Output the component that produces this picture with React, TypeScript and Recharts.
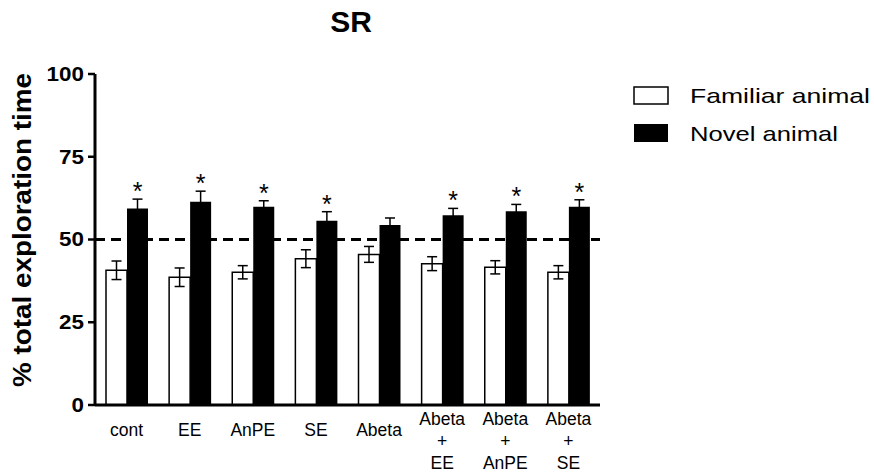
import { BarChart, Bar, XAxis, YAxis, ErrorBar, ReferenceLine, LabelList, Legend } from 'recharts'

const categories = ['cont', 'EE', 'AnPE', 'SE', 'Abeta', 'Abeta\n+\nEE', 'Abeta\n+\nAnPE', 'Abeta\n+\nSE']
const familiar = [40.7, 38.6, 40.1, 44.2, 45.5, 42.7, 41.6, 40.1]
const familiarErr = [2.8, 2.8, 2.0, 2.7, 2.4, 2.1, 2.0, 2.0]
const novel = [59.4, 61.4, 59.9, 55.7, 54.4, 57.3, 58.5, 59.9]
const novelErr = [2.8, 3.2, 1.8, 2.7, 2.1, 2.1, 2.1, 2.1]
const significant = ['*', '*', '*', '*', '', '*', '*', '*']
const yTicks = [0, 25, 50, 75, 100]

const FONT = '"Liberation Sans", Arial, sans-serif'

const data = categories.map((name, i) => ({
  name,
  familiar: familiar[i],
  familiarErr: familiarErr[i],
  novel: novel[i],
  novelErr: novelErr[i],
  sig: significant[i],
}))

// multi-line group labels under the x axis
const XTick = ({ x, y, payload }: any) => {
  const lines = String(payload.value).split('\n')
  const first = lines.length > 1 ? 12 : 23
  return (
    <text x={x} y={y} textAnchor="middle" fontSize={17.5} fontFamily={FONT} fill="#000">
      {lines.map((l, i) => (
        <tspan key={i} x={x} dy={i === 0 ? first : 22}>
          {l}
        </tspan>
      ))}
    </text>
  )
}

// the original tick numbers are a bit wider than Arial
const YTick = ({ x, y, payload }: any) => (
  <text
    x={x}
    y={y}
    dy={7}
    textAnchor="end"
    fontSize={19.5}
    fontWeight="bold"
    fontFamily={FONT}
    fill="#000"
    transform={`translate(${x},0) scale(1.15,1) translate(${-x},0)`}
  >
    {payload.value}
  </text>
)

const YLabel = () => (
  <text
    x={31}
    y={230}
    transform="rotate(-90, 31, 230)"
    textAnchor="middle"
    fontSize={25}
    fontWeight="bold"
    fontFamily={FONT}
    fill="#000"
    textLength={314}
    lengthAdjust="spacingAndGlyphs"
  >
    % total exploration time
  </text>
)

// asterisk above the error bar of the novel animal bar
const Star = (props: any) => {
  const { x, y, width, height, index, value } = props
  if (!value) return null
  const pxPerUnit = height / novel[index]
  const top = y - novelErr[index] * pxPerUnit
  return (
    <text x={x + width / 2} y={top + 1} textAnchor="middle" fontSize={25} fontFamily={FONT} fill="#000">
      {value}
    </text>
  )
}

const LegendBox = () => (
  <svg width={254} height={90}>
    <rect x={14} y={12} width={34} height={17} fill="#fff" stroke="#000" strokeWidth={1.5} />
    <text x={70} y={28} fontSize={21} fontFamily={FONT} fill="#000" textLength={180} lengthAdjust="spacingAndGlyphs">
      Familiar animal
    </text>
    <rect x={14} y={49} width={34} height={18} fill="#000" />
    <text x={70} y={66} fontSize={21} fontFamily={FONT} fill="#000" textLength={148} lengthAdjust="spacingAndGlyphs">
      Novel animal
    </text>
  </svg>
)

export default function App() {
  return (
    <div style={{ position: 'absolute', left: 0, top: 0, width: 874, height: 474, background: '#fff' }}>
      <div
        style={{
          position: 'absolute',
          left: 0,
          top: 7,
          width: 702,
          textAlign: 'center',
          fontFamily: FONT,
          fontWeight: 'bold',
          fontSize: 30,
          lineHeight: '30px',
          zIndex: 1,
        }}
      >
        SR
      </div>
      <BarChart
        width={874}
        height={474}
        data={data}
        margin={{ top: 74, right: 274, bottom: 0, left: 0 }}
        barGap={0}
        barSize={21}
      >
        <XAxis
          dataKey="name"
          interval={0}
          tickLine={false}
          axisLine={{ stroke: '#000', strokeWidth: 3 }}
          height={69}
          tick={<XTick />}
        />
        <YAxis
          width={95}
          domain={[0, 100]}
          ticks={yTicks}
          interval={0}
          tickSize={7}
          tickMargin={4}
          axisLine={{ stroke: '#000', strokeWidth: 3 }}
          tickLine={{ stroke: '#000', strokeWidth: 2.5 }}
          tick={<YTick />}
          label={<YLabel />}
        />
        <Legend
          layout="vertical"
          align="center"
          verticalAlign="middle"
          content={<LegendBox />}
          wrapperStyle={{ left: 620, top: 75, width: 254, height: 90 }}
        />
        <Bar dataKey="familiar" name="Familiar animal" fill="#fff" stroke="#000" strokeWidth={1.5} isAnimationActive={false}>
          <ErrorBar dataKey="familiarErr" width={5} stroke="#000" strokeWidth={1.5} />
        </Bar>
        <Bar dataKey="novel" name="Novel animal" fill="#000" isAnimationActive={false}>
          <ErrorBar dataKey="novelErr" width={5} stroke="#000" strokeWidth={1.5} />
          <LabelList dataKey="sig" content={<Star />} />
        </Bar>
        <ReferenceLine y={50} stroke="#000" strokeWidth={3} strokeDasharray="10 6" />
      </BarChart>
    </div>
  )
}
